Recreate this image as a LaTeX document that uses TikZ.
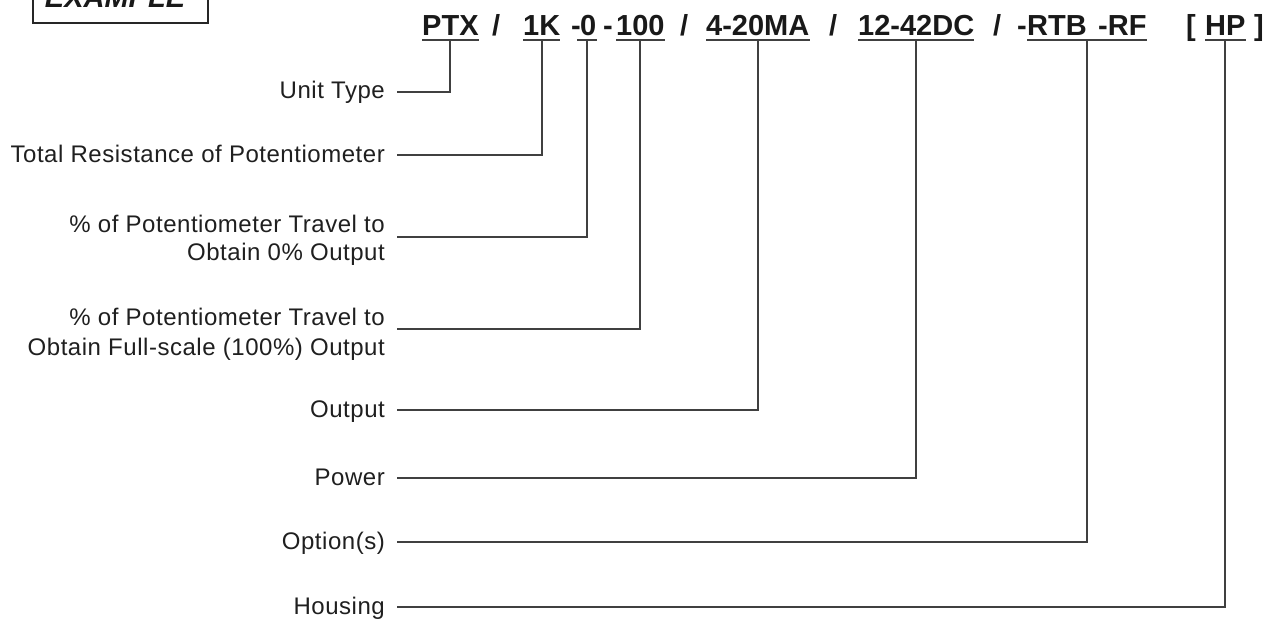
\documentclass[tikz,border=0pt]{standalone}
\usepackage{fontspec}
\setmainfont{Liberation Sans}
\newfontfamily\labfont[LetterSpace=2.2]{Liberation Sans}
\usetikzlibrary{calc}
\begin{document}
\begin{tikzpicture}[x=1pt,y=-1pt,
  lab/.style={inner sep=0pt,anchor=base east,text=black!88,font=\labfont\fontsize{24}{28}\selectfont},
  code/.style={inner sep=0pt,anchor=base west,text=black!90,font=\fontsize{29}{34}\selectfont\bfseries},
  uline/.style={draw=black!75,line width=2pt},
  conn/.style={draw=black!75,line width=2pt,line join=miter}]
\useasboundingbox (0,0) rectangle (1269,621);
% EXAMPLE box
\draw[line width=2.6pt,draw=black!85] (33,-10) rectangle (208,23);
\node[inner sep=0pt,anchor=base,font=\fontsize{29}{34}\selectfont\bfseries\itshape,text=black!90] (ex) at (115,8) {EXAMPLE};
% code line
\node[code] (ptx) at (422,35) {PTX};
\node[code] (s1) at (492,35) {/};
\node[code] (k1) at (523,35) {1K};
\node[code] (d0) at (571,35) {-};
\node[code] (z0) at (580,35) {0};
\node[code] (d100) at (603,35) {-};
\node[code] (h100) at (616,35) {100};
\node[code] (s2) at (680,35) {/};
\node[code] (ma) at (706,35) {4-20MA};
\node[code] (s3) at (829,35) {/};
\node[code] (dc) at (858,35) {12-42DC};
\node[code] (s4) at (993,35) {/};
\node[code] (dr) at (1017,35) {-};
\node[code] (rtb) at (1027,35) {RTB};
\node[code] (rf) at (1098,35) {-RF};
\node[code] (lb) at (1186,35) {[};
\node[code] (hp) at (1205,35) {HP};
\node[code] (rb) at (1254,35) {]};
% underlines
\draw[uline] ([yshift=-5pt]ptx.base west) -- ([yshift=-5pt]ptx.base east);
\draw[uline] ([yshift=-5pt]k1.base west) -- ([yshift=-5pt]k1.base east);
\draw[uline] ([shift={(-3pt,-5pt)}]z0.base west) -- ([yshift=-5pt]z0.base east);
\draw[uline] ([yshift=-5pt]h100.base west) -- ([yshift=-5pt]h100.base east);
\draw[uline] ([yshift=-5pt]ma.base west) -- ([yshift=-5pt]ma.base east);
\draw[uline] ([yshift=-5pt]dc.base west) -- ([yshift=-5pt]dc.base east);
\draw[uline] ([yshift=-5pt]rtb.base west) -- ([yshift=-5pt]rf.base east);
\draw[uline] ([yshift=-5pt]hp.base west) -- ([yshift=-5pt]hp.base east);
\coordinate (u1) at ([yshift=-5pt]ptx.base);
\coordinate (u2) at ([yshift=-5pt]k1.base);
\coordinate (u3) at ([shift={(-1.5pt,-5pt)}]z0.base);
\coordinate (u4) at ([yshift=-5pt]h100.base);
\coordinate (u5) at ([yshift=-5pt]ma.base);
\coordinate (u6) at ([yshift=-5pt]dc.base);
\coordinate (u7) at ($([yshift=-5pt]rtb.base west)!0.5!([yshift=-5pt]rf.base east)$);
\coordinate (u8) at ([yshift=-5pt]hp.base);
% labels
\node[lab] (l1) at (385,98) {Unit Type};
\node[lab] (l2) at (385,162) {Total Resistance of Potentiometer};
\node[lab] (l3) at (385,232) {\% of Potentiometer Travel to};
\node[lab] (l3b) at (385,260) {Obtain 0\% Output};
\node[lab] (l4) at (385,325) {\% of Potentiometer Travel to};
\node[lab] (l4b) at (385,355) {Obtain Full-scale (100\%) Output};
\node[lab] (l5) at (385,417) {Output};
\node[lab] (l6) at (385,485) {Power};
\node[lab] (l7) at (385,549) {Option(s)};
\node[lab] (l8) at (385,614) {Housing};
% connectors
\draw[conn] (l1.base east) ++(12,-6) -| (u1);
\draw[conn] (l2.base east) ++(12,-7) -| (u2);
\draw[conn] (l3.base east) ++(12,5) -| (u3);
\draw[conn] (l4.base east) ++(12,4) -| (u4);
\draw[conn] (l5.base east) ++(12,-7) -| (u5);
\draw[conn] (l6.base east) ++(12,-7) -| (u6);
\draw[conn] (l7.base east) ++(12,-7) -| (u7);
\draw[conn] (l8.base east) ++(12,-7) -| (u8);
\end{tikzpicture}
\end{document}
